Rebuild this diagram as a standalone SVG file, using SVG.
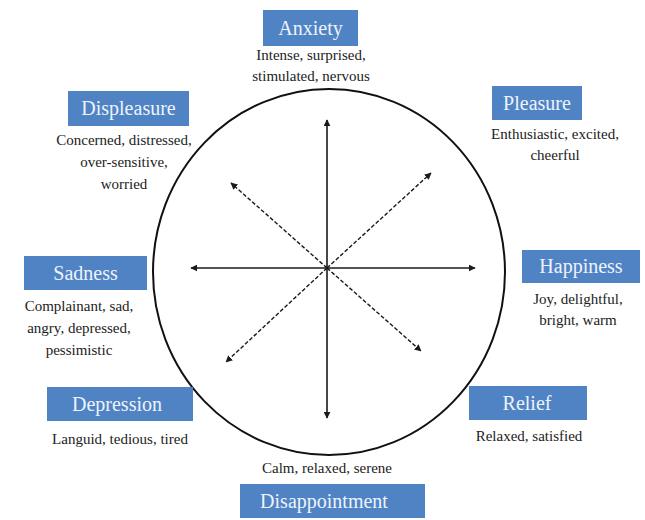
<svg xmlns="http://www.w3.org/2000/svg" width="645" height="520" viewBox="0 0 645 520">
<style>
.box{fill:#4f83c4}
.t{font-size:20px;fill:#eef3fb;text-anchor:middle}
.s{font-size:15px;fill:#222;text-anchor:middle}
.ax{stroke:#1a1a1a;stroke-width:1.6;fill:none}
.dx{stroke:#1a1a1a;stroke-width:1.4;fill:none;stroke-dasharray:4 2}
</style>
<defs>
<marker id="ah" viewBox="0 0 10 10" refX="9" refY="5" markerWidth="7" markerHeight="7" markerUnits="userSpaceOnUse" orient="auto-start-reverse">
<path d="M0,0 L10,5 L0,10 z" fill="#1a1a1a"/>
</marker>
</defs>
<rect width="645" height="520" fill="#fff"/>
<ellipse cx="329" cy="272" rx="176" ry="183" fill="none" stroke="#111" stroke-width="2"/>
<g id="connectors">
<line class="ax" x1="327" y1="268" x2="327" y2="120" marker-end="url(#ah)"/>
<line class="ax" x1="327" y1="268" x2="327" y2="418" marker-end="url(#ah)"/>
<line class="ax" x1="327" y1="268" x2="191" y2="268" marker-end="url(#ah)"/>
<line class="ax" x1="327" y1="268" x2="475" y2="268" marker-end="url(#ah)"/>
<line class="dx" x1="327" y1="268" x2="231" y2="183" marker-end="url(#ah)"/>
<line class="dx" x1="327" y1="268" x2="431" y2="173" marker-end="url(#ah)"/>
<line class="dx" x1="327" y1="268" x2="226" y2="362" marker-end="url(#ah)"/>
<line class="dx" x1="327" y1="268" x2="421" y2="351" marker-end="url(#ah)"/>
</g>
<g font-family="'Liberation Serif', 'DejaVu Serif', serif">
<g id="anxiety">
<rect class="box" x="263" y="10" width="95" height="36"/>
<text class="t" x="310.5" y="35">Anxiety</text>
<text class="s" x="311" y="60">Intense, surprised,</text>
<text class="s" x="311" y="81">stimulated, nervous</text>
</g>
<g id="pleasure">
<rect class="box" x="492" y="86" width="90" height="34"/>
<text class="t" x="537" y="110">Pleasure</text>
<text class="s" x="555" y="139">Enthusiastic, excited,</text>
<text class="s" x="555" y="160">cheerful</text>
</g>
<g id="displeasure">
<rect class="box" x="68" y="91" width="121" height="35"/>
<text class="t" x="128.5" y="115">Displeasure</text>
<text class="s" x="124" y="145">Concerned, distressed,</text>
<text class="s" x="124" y="167">over-sensitive,</text>
<text class="s" x="124" y="189">worried</text>
</g>
<g id="sadness">
<rect class="box" x="24" y="256" width="123" height="34"/>
<text class="t" x="85.5" y="280">Sadness</text>
<text class="s" x="79" y="311">Complainant, sad,</text>
<text class="s" x="79" y="333">angry, depressed,</text>
<text class="s" x="79" y="355">pessimistic</text>
</g>
<g id="happiness">
<rect class="box" x="522" y="250" width="118" height="33"/>
<text class="t" x="581" y="273">Happiness</text>
<text class="s" x="578" y="304">Joy, delightful,</text>
<text class="s" x="578" y="325">bright, warm</text>
</g>
<g id="depression">
<rect class="box" x="47" y="387" width="146" height="34"/>
<text class="t" x="117" y="411">Depression</text>
<text class="s" x="120" y="444">Languid, tedious, tired</text>
</g>
<g id="relief">
<rect class="box" x="469" y="386" width="118" height="34"/>
<text class="t" x="527" y="410">Relief</text>
<text class="s" x="529" y="441">Relaxed, satisfied</text>
</g>
<g id="disappointment">
<text class="s" x="327" y="473">Calm, relaxed, serene</text>
<rect class="box" x="240" y="484" width="185" height="34"/>
<text class="t" x="324" y="508">Disappointment</text>
</g>
</g>
</svg>
